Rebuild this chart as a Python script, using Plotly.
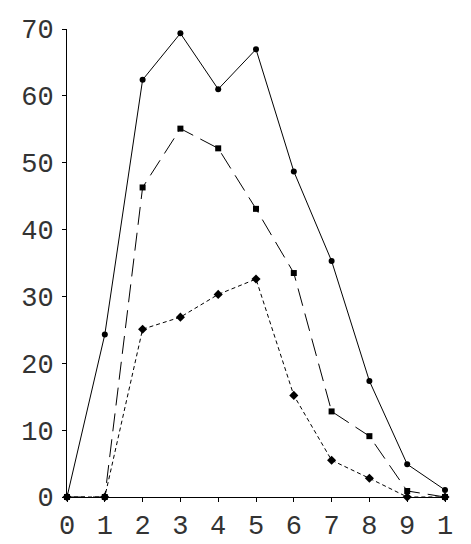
import plotly.graph_objects as go

x = [0, 1, 2, 3, 4, 5, 6, 7, 8, 9, 10]
solid = [0, 24.3, 62.4, 69.35, 61.0, 66.96, 48.7, 35.3, 17.35, 4.9, 1.05]
dashed = [0, 0, 46.3, 55.1, 52.15, 43.1, 33.5, 12.8, 9.1, 0.9, 0]
dotted = [0, 0, 25.1, 26.9, 30.3, 32.6, 15.2, 5.5, 2.8, 0, 0]

x_ticks = [0, 1, 2, 3, 4, 5, 6, 7, 8, 9, 10]
x_ticktext = ["0", "1", "2", "3", "4", "5", "6", "7", "8", "9", "1"]
y_ticks = [0, 10, 20, 30, 40, 50, 60, 70]

fig = go.Figure()
fig.add_trace(go.Scatter(x=x, y=solid, mode="lines+markers",
                         line=dict(color="black", width=1),
                         marker=dict(symbol="circle", size=6, color="black"),
                         cliponaxis=False))
fig.add_trace(go.Scatter(x=x, y=dashed, mode="lines+markers",
                         line=dict(color="black", width=1, dash="18px,8px"),
                         marker=dict(symbol="square", size=6, color="black"),
                         cliponaxis=False))
fig.add_trace(go.Scatter(x=x, y=dotted, mode="lines+markers",
                         line=dict(color="black", width=1, dash="4px,3px"),
                         marker=dict(symbol="diamond", size=7, color="black"),
                         cliponaxis=False))

font = dict(family="Liberation Mono", size=27, color="#333333")
fig.update_layout(
    width=471, height=544,
    margin=dict(l=59, r=34, t=21, b=55),
    paper_bgcolor="white", plot_bgcolor="white",
    showlegend=False,
    xaxis=dict(range=[0, 10], tickvals=x_ticks, ticktext=x_ticktext,
               showgrid=False, zeroline=False, showline=True, linecolor="black",
               linewidth=1, ticks="outside", ticklen=4, tickcolor="black",
               tickfont=font, automargin=False),
    yaxis=dict(range=[0, 70], tickvals=y_ticks,
               showgrid=False, zeroline=False, showline=True, linecolor="black",
               linewidth=1, ticks="outside", ticklen=4, tickcolor="black",
               tickfont=font, ticklabelstandoff=3, automargin=False),
)
fig.write_html("out.html")
